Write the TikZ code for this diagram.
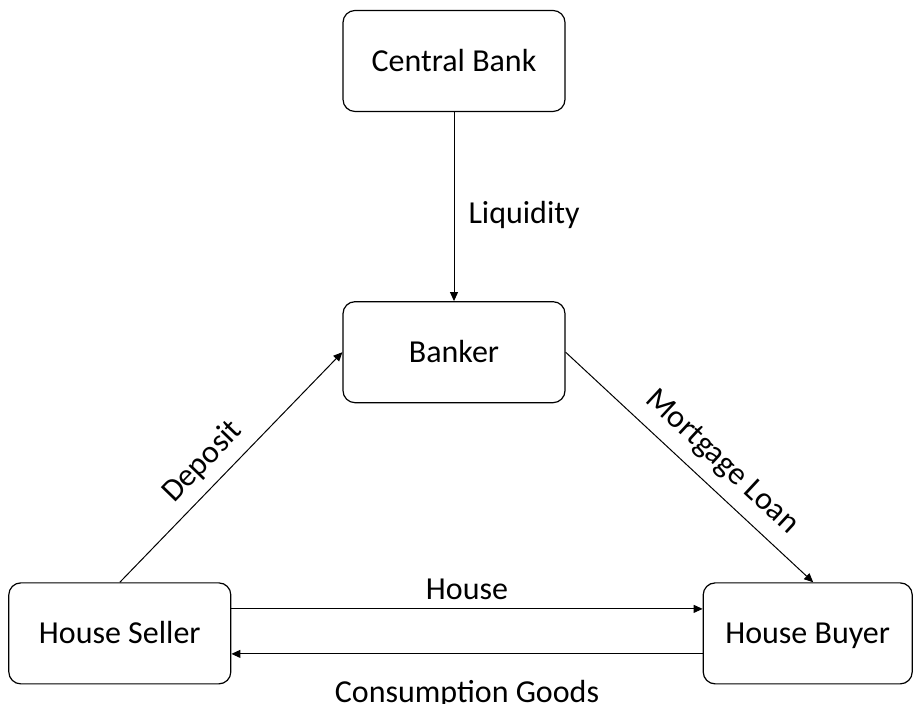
\documentclass[tikz,border=0pt]{standalone}
\usepackage{fontspec}
\setmainfont{Carlito}
\usetikzlibrary{arrows.meta,positioning}
\tikzset{
 agent/.style={draw,rounded corners=6pt,align=center,minimum height=50.5pt,
             minimum width=111pt,line width=0.6pt,text height=10.3pt,text depth=0pt,
             font=\fontsize{16}{19}\selectfont},
 flow/.style={-{Triangle[length=4.5pt,width=4pt]},line width=0.5pt},
 lbl/.style={font=\fontsize{16}{19}\selectfont,inner sep=2pt}
}

\begin{document}
\begin{tikzpicture}
\useasboundingbox (0,0) rectangle (456.5pt,352pt);
\node[agent] (cb) at (227pt,321.5pt) {Central Bank};
\node[agent,below=94.5pt of cb] (bank) {Banker};
\node[agent,below left=89.5pt and 55.5pt of bank] (seller) {House Seller};
\node[agent,minimum width=104.5pt,below right=89.5pt and 68.5pt of bank] (buyer) {House Buyer};
% money and goods flows
\draw[flow] (cb) -- node[lbl,pos=0.545,right=5pt] {Liquidity} (bank);
\draw[flow] (seller.north) -- node[lbl,pos=0.45,sloped,above=3pt] {Deposit} (bank.west);
\draw[flow] (bank.east) -- node[lbl,pos=0.56,sloped,above=4pt] {Mortgage Loan} ([xshift=2.75pt]buyer.north);
\draw[flow] ([yshift=12.25pt]seller.east) -- node[lbl,above=2.5pt] {House} ([yshift=12.25pt]buyer.west);
\draw[flow] ([yshift=-10.25pt]buyer.west) -- node[lbl,below=11pt] {Consumption Goods} ([yshift=-10.25pt]seller.east);
\end{tikzpicture}
\end{document}
